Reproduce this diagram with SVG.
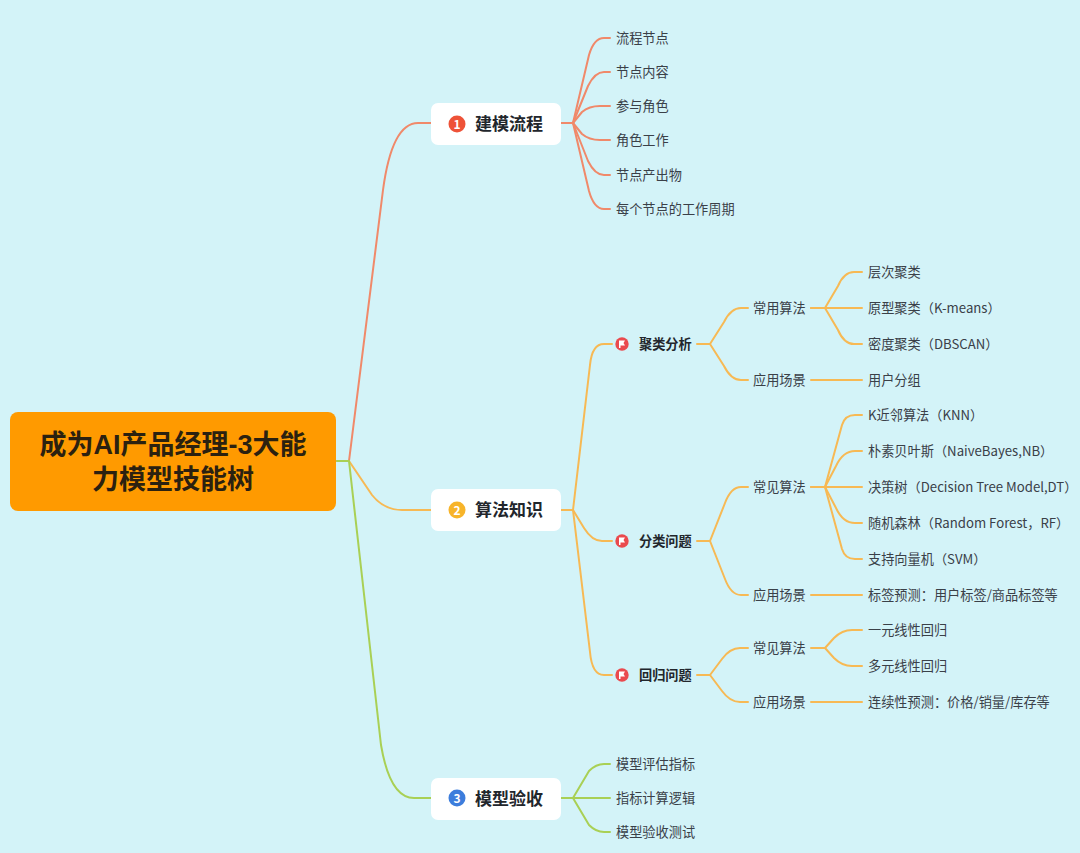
<svg xmlns="http://www.w3.org/2000/svg" width="1080" height="853" viewBox="0 0 1080 853">
<style>
text{font-family:"Noto Sans CJK SC","Noto Sans",sans-serif;dominant-baseline:central}
.t{font-size:13.2px;fill:#3a4048}
.s{font-size:13.2px;font-weight:700;fill:#22262c}
.m{font-size:17px;font-weight:700;fill:#22262c}
text.r{font-family:"Liberation Sans","Noto Sans CJK SC",sans-serif;font-size:27px;font-weight:700;fill:#2b2110;text-anchor:middle}
.b{fill:#fff}
.i{font-size:12px;font-weight:700;fill:#fff;text-anchor:middle}
path{fill:none;stroke-width:2;stroke-linecap:round;stroke-linejoin:round}
.c1 path{stroke:#f0896a}.c2 path{stroke:#f7b954}.c3 path{stroke:#a9d055}
.fl{fill:#fff;stroke:none}
</style>
<rect width="1080" height="853" fill="#d3f3f8"/>
<g id="connectors">
<g class="c1">
<path d="M337 461H349L383 190Q392 123 418 123H431"/>
<path d="M561 123H573L589 55Q594 38 604 38H610"/>
<path d="M573 123L588 86Q595 72 604 72H610"/>
<path d="M573 123L582 112Q589 106 600 106H610"/>
<path d="M573 123L582 134Q589 140 600 140H610"/>
<path d="M573 123L588 161Q595 175 604 175H610"/>
<path d="M573 123L589 191Q594 209 604 209H610"/>
</g>
<g class="c2">
<path d="M349 461L372 495Q384 510 402 510H431"/>
<path d="M561 510H573L590 365Q592 344 604 344H612"/>
<path d="M573 510L584 528Q592 541 602 541H612"/>
<path d="M573 510L590 652Q592 675 604 675H612"/>
<path d="M697 344H710L724 322Q731 308 741 308H748"/>
<path d="M710 344L724 366Q731 380 741 380H748"/>
<path d="M697 541H710L725 503Q731 487 741 487H748"/>
<path d="M710 541L725 579Q731 595 741 595H748"/>
<path d="M697 675H710L722 659Q730 648 740 648H748"/>
<path d="M710 675L722 691Q730 702 740 702H748"/>
<path d="M811 308H825L838 286Q844 272 854 272H862"/>
<path d="M811 308H862"/>
<path d="M825 308L838 330Q844 344 854 344H862"/>
<path d="M811 380H862"/>
<path d="M811 487H825L842 425Q845 415 855 415H862"/>
<path d="M825 487L836 466Q843 451 855 451H862"/>
<path d="M811 487H862"/>
<path d="M825 487L836 508Q843 523 855 523H862"/>
<path d="M825 487L842 549Q845 559 855 559H862"/>
<path d="M811 595H862"/>
<path d="M811 648H825L834 638Q842 630 852 630H862"/>
<path d="M825 648L834 658Q842 666 852 666H862"/>
<path d="M811 702H862"/>
</g>
<g class="c3">
<path d="M337 461H349L381 745Q390 798 414 798H431"/>
<path d="M561 798H573L589 771Q596 764 604 764H610"/>
<path d="M561 798H610"/>
<path d="M573 798L589 825Q596 832 604 832H610"/>
</g>
</g>
<g id="root"><rect x="10" y="412" width="326" height="99" rx="8" fill="#ff9a00"/><text class="r"><tspan x="173" y="445">成为AI产品经理-3大能</tspan><tspan x="173" y="480">力模型技能树</tspan></text></g>
<g id="n1"><rect class="b" x="431" y="103" width="130" height="42" rx="7"/><circle cx="457" cy="124" r="8.500" fill="#ee5238"/><text class="i" x="457" y="123.500">1</text><text class="m" x="475" y="122.500">建模流程</text></g>
<g id="n2"><rect class="b" x="431" y="489" width="130" height="42" rx="7"/><circle cx="457" cy="510" r="8.500" fill="#f7b42a"/><text class="i" x="457" y="509.500">2</text><text class="m" x="475" y="508.500">算法知识</text></g>
<g id="n3"><rect class="b" x="431" y="778" width="130" height="42" rx="7"/><circle cx="457" cy="798" r="8.500" fill="#3c7ddc"/><text class="i" x="457" y="797.500">3</text><text class="m" x="475" y="797">模型验收</text></g>
<g id="a1"><text class="t" x="616" y="37">流程节点</text></g>
<g id="a2"><text class="t" x="616" y="71">节点内容</text></g>
<g id="a3"><text class="t" x="616" y="105">参与角色</text></g>
<g id="a4"><text class="t" x="616" y="139">角色工作</text></g>
<g id="a5"><text class="t" x="616" y="174">节点产出物</text></g>
<g id="a6"><text class="t" x="616" y="208">每个节点的工作周期</text></g>
<g id="b1"><circle cx="622" cy="344" r="6.700" fill="#ea4a4e"/><path class="fl" d="M619 340.500H625L623.500 343L625 345.500H620.500V348H619Z"/><text class="s" x="639" y="343">聚类分析</text></g>
<g id="b2"><circle cx="622" cy="541" r="6.700" fill="#ea4a4e"/><path class="fl" d="M619 537.500H625L623.500 540L625 542.500H620.500V545H619Z"/><text class="s" x="639" y="540">分类问题</text></g>
<g id="b3"><circle cx="622" cy="675" r="6.700" fill="#ea4a4e"/><path class="fl" d="M619 671.500H625L623.500 674L625 676.500H620.500V679H619Z"/><text class="s" x="639" y="674">回归问题</text></g>
<g id="c1"><text class="t" x="753" y="307">常用算法</text></g>
<g id="c2"><text class="t" x="753" y="379">应用场景</text></g>
<g id="c3"><text class="t" x="753" y="486">常见算法</text></g>
<g id="c4"><text class="t" x="753" y="594">应用场景</text></g>
<g id="c5"><text class="t" x="753" y="647">常见算法</text></g>
<g id="c6"><text class="t" x="753" y="701">应用场景</text></g>
<g id="d1"><text class="t" x="868" y="271">层次聚类</text></g>
<g id="d2"><text class="t" x="868" y="307">原型聚类（K-means）</text></g>
<g id="d3"><text class="t" x="868" y="343">密度聚类（DBSCAN）</text></g>
<g id="d4"><text class="t" x="868" y="379">用户分组</text></g>
<g id="d5"><text class="t" x="868" y="414">K近邻算法（KNN）</text></g>
<g id="d6"><text class="t" x="868" y="450">朴素贝叶斯（NaiveBayes,NB）</text></g>
<g id="d7"><text class="t" x="868" y="486">决策树（Decision Tree Model,DT）</text></g>
<g id="d8"><text class="t" x="868" y="522">随机森林（Random Forest，RF）</text></g>
<g id="d9"><text class="t" x="868" y="558">支持向量机（SVM）</text></g>
<g id="d10"><text class="t" x="868" y="594">标签预测：用户标签/商品标签等</text></g>
<g id="d11"><text class="t" x="868" y="629">一元线性回归</text></g>
<g id="d12"><text class="t" x="868" y="665">多元线性回归</text></g>
<g id="d13"><text class="t" x="868" y="701">连续性预测：价格/销量/库存等</text></g>
<g id="e1"><text class="t" x="616" y="763">模型评估指标</text></g>
<g id="e2"><text class="t" x="616" y="797">指标计算逻辑</text></g>
<g id="e3"><text class="t" x="616" y="831">模型验收测试</text></g>
</svg>
